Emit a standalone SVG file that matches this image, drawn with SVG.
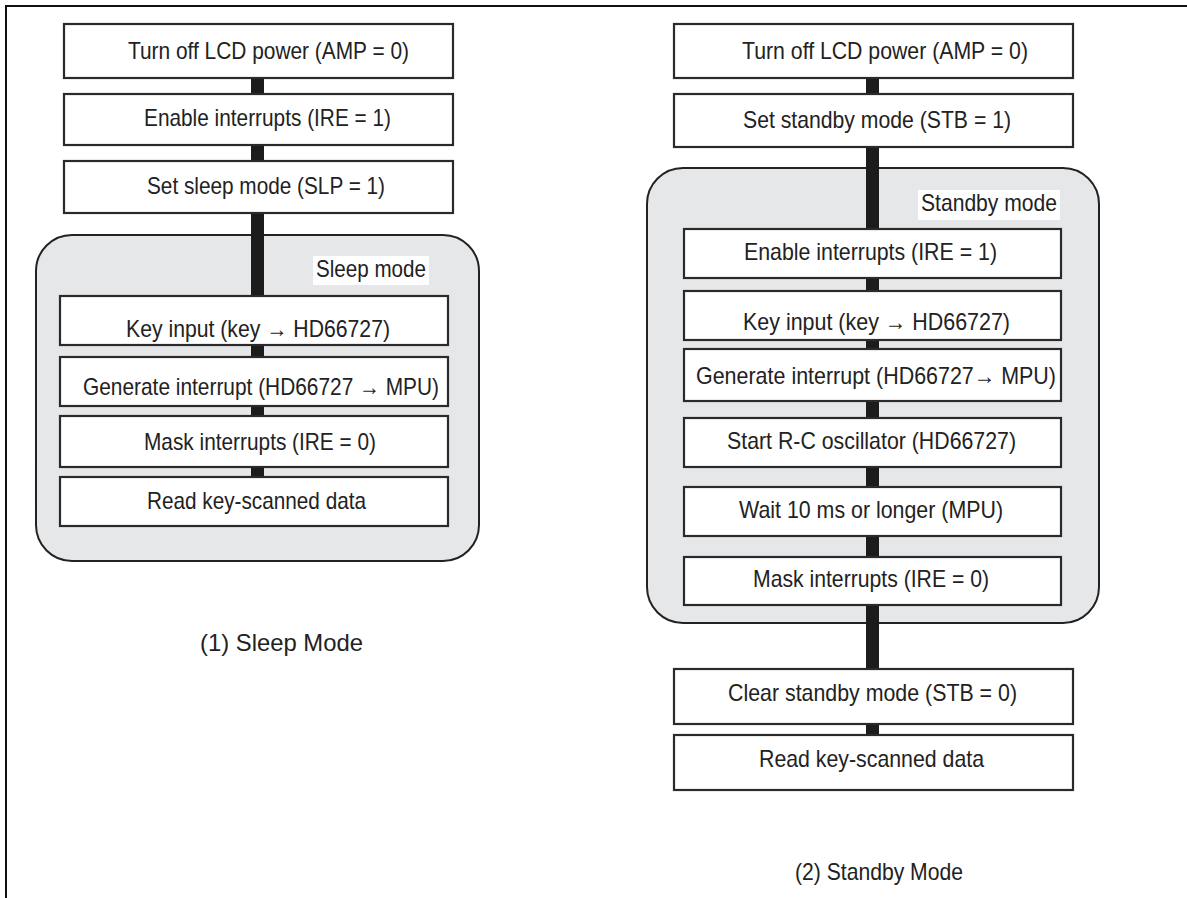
<svg xmlns="http://www.w3.org/2000/svg" width="1187" height="898" viewBox="0 0 1187 898">
<style>
.frame{fill:none;stroke:#111;stroke-width:2}
.grp{fill:#e6e7e8;stroke:#222;stroke-width:2}
.box{fill:#fff;stroke:#2a2a2a;stroke-width:2.2}
.conn{stroke:#1c1c1c;stroke-width:13;fill:none}
.lblbg{fill:#fff}
text{font-family:"Liberation Sans",Arial,Helvetica,sans-serif;font-size:24px;fill:#222}
</style>
<rect width="1187" height="898" fill="#fff"/>
<path class="frame" d="M6 898 V6 H1187"/>
<g id="sleep-mode-group">
<rect class="grp" x="36" y="235" width="443" height="326" rx="36" ry="36"/>
<rect class="lblbg" x="313" y="256" width="116" height="29"/>
<text x="316" y="277" textLength="110" lengthAdjust="spacingAndGlyphs">Sleep mode</text>
</g>
<g id="standby-mode-group">
<rect class="grp" x="647" y="168" width="452" height="455" rx="36" ry="36"/>
<rect class="lblbg" x="918" y="190" width="142" height="30"/>
<text x="921" y="211" textLength="136" lengthAdjust="spacingAndGlyphs">Standby mode</text>
</g>
<g id="connectors">
<line class="conn" x1="257.5" y1="78" x2="257.5" y2="477"/>
<line class="conn" x1="872.5" y1="78" x2="872.5" y2="735"/>
</g>
<g id="L1"><rect class="box" x="64" y="24" width="389" height="54"/><text x="128" y="59" textLength="281" lengthAdjust="spacingAndGlyphs">Turn off LCD power (AMP = 0)</text></g>
<g id="L2"><rect class="box" x="64" y="94" width="389" height="51"/><text x="144" y="126" textLength="247" lengthAdjust="spacingAndGlyphs">Enable interrupts (IRE = 1)</text></g>
<g id="L3"><rect class="box" x="64" y="161" width="389" height="52"/><text x="147" y="194" textLength="238" lengthAdjust="spacingAndGlyphs">Set sleep mode (SLP = 1)</text></g>
<g id="L4"><rect class="box" x="60" y="296" width="388" height="49"/><text x="126" y="337" textLength="264" lengthAdjust="spacingAndGlyphs">Key input (key  → HD66727)</text></g>
<g id="L5"><rect class="box" x="60" y="357" width="388" height="49"/><text x="83" y="395" textLength="356" lengthAdjust="spacingAndGlyphs">Generate interrupt (HD66727 → MPU)</text></g>
<g id="L6"><rect class="box" x="60" y="416" width="388" height="51"/><text x="144" y="450" textLength="232" lengthAdjust="spacingAndGlyphs">Mask interrupts (IRE = 0)</text></g>
<g id="L7"><rect class="box" x="60" y="477" width="388" height="49"/><text x="147" y="509" textLength="219" lengthAdjust="spacingAndGlyphs">Read key-scanned data</text></g>
<g id="caption1"><text x="200" y="651" textLength="163" lengthAdjust="spacingAndGlyphs">(1) Sleep Mode</text></g>
<g id="R1"><rect class="box" x="674" y="24" width="399" height="54"/><text x="742" y="59" textLength="286" lengthAdjust="spacingAndGlyphs">Turn off LCD power (AMP = 0)</text></g>
<g id="R2"><rect class="box" x="674" y="94" width="399" height="53"/><text x="743" y="128" textLength="268" lengthAdjust="spacingAndGlyphs">Set standby mode (STB = 1)</text></g>
<g id="R3"><rect class="box" x="684" y="229" width="377" height="49"/><text x="744" y="260" textLength="253" lengthAdjust="spacingAndGlyphs">Enable interrupts (IRE = 1)</text></g>
<g id="R4"><rect class="box" x="684" y="291" width="377" height="49"/><text x="743" y="330" textLength="267" lengthAdjust="spacingAndGlyphs">Key input (key → HD66727)</text></g>
<g id="R5"><rect class="box" x="684" y="349" width="377" height="52"/><text x="696" y="384" textLength="360" lengthAdjust="spacingAndGlyphs">Generate interrupt (HD66727→ MPU)</text></g>
<g id="R6"><rect class="box" x="684" y="418" width="377" height="49"/><text x="727" y="449" textLength="289" lengthAdjust="spacingAndGlyphs">Start R-C oscillator (HD66727)</text></g>
<g id="R7"><rect class="box" x="684" y="487" width="377" height="49"/><text x="739" y="518" textLength="264" lengthAdjust="spacingAndGlyphs">Wait 10 ms or longer (MPU)</text></g>
<g id="R8"><rect class="box" x="684" y="557" width="377" height="48"/><text x="753" y="587" textLength="236" lengthAdjust="spacingAndGlyphs">Mask interrupts (IRE = 0)</text></g>
<g id="R9"><rect class="box" x="674" y="669" width="399" height="55"/><text x="728" y="701" textLength="289" lengthAdjust="spacingAndGlyphs">Clear standby mode (STB = 0)</text></g>
<g id="R10"><rect class="box" x="674" y="735" width="399" height="55"/><text x="759" y="767" textLength="225" lengthAdjust="spacingAndGlyphs">Read key-scanned data</text></g>
<g id="caption2"><text x="795" y="880" textLength="168" lengthAdjust="spacingAndGlyphs">(2) Standby Mode</text></g>
</svg>
